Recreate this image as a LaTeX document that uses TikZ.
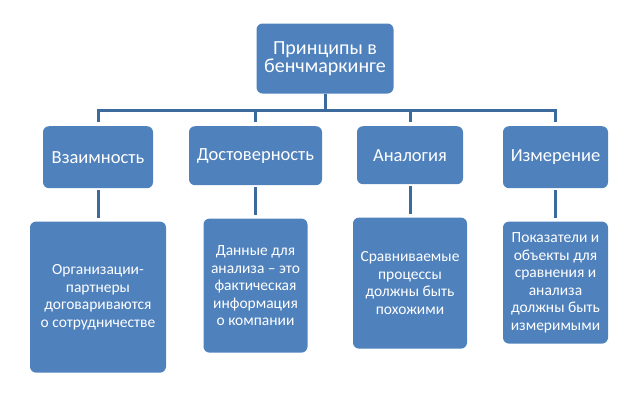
\documentclass[tikz,border=0pt]{standalone}
\usepackage{fontspec}
\setmainfont{Carlito}
\usetikzlibrary{positioning}
\definecolor{boxblue}{HTML}{4F81BD}
\definecolor{lineblue}{HTML}{3D6A9C}

\begin{document}
\begin{tikzpicture}[x=1pt,y=-1pt,node distance=33pt,
  box/.style={fill=boxblue,rounded corners=6pt,text=white,align=center,inner sep=2pt},
  head/.style={box,minimum height=62pt,font=\fontsize{18.5}{20}\selectfont},
  descr/.style={box,font=\fontsize{15.5}{17.5}\selectfont},
  link/.style={draw=lineblue,line width=3pt}]
  \useasboundingbox (0,0) rectangle (643,399);

  \node[box,minimum width=137pt,minimum height=70pt,font=\fontsize{20}{18.5}\selectfont] (root) at (325,58.5) {Принципы в\\бенчмаркинге};

  \node[head,anchor=north,minimum width=110pt] (vz) at (98,126) {Взаимность};
  \node[head,anchor=north,minimum width=133pt,minimum height=59pt] (dost) at (255.5,126) {Достоверность};
  \node[head,anchor=north,minimum width=106pt,minimum height=58pt] (anal) at (410,126) {Аналогия};
  \node[head,anchor=north,minimum width=105pt] (izm) at (555.5,126) {Измерение};

  \node[descr,minimum width=136pt,minimum height=151pt] (org) [below=of vz] {Организации-\\партнеры\\договариваются\\о сотрудничестве};
  \node[descr,minimum width=104pt,minimum height=134pt] (dan) [below=of dost] {Данные для\\анализа -- это\\фактическая\\информация\\о компании};
  \node[descr,minimum width=114pt,minimum height=131pt] (srav) [below=of anal] {Сравниваемые\\процессы\\должны быть\\похожими};
  \node[descr,minimum width=105pt,minimum height=122pt] (pok) [below=of izm] {Показатели и\\объекты для\\сравнения и\\анализа\\должны быть\\измеримыми};

  % tree
  \draw[link] (root.south) -- ++(0,17) coordinate (bar);
  \foreach \n in {vz,dost,anal,izm}
    \draw[link,shorten >=4pt] (bar) -| (\n.north);
  \draw[link,shorten <=2pt,shorten >=3pt] (vz) -- (org);
  \draw[link,shorten <=2pt,shorten >=3pt] (dost) -- (dan);
  \draw[link,shorten <=2pt,shorten >=3pt] (anal) -- (srav);
  \draw[link,shorten <=2pt,shorten >=3pt] (izm) -- (pok);
\end{tikzpicture}
\end{document}
